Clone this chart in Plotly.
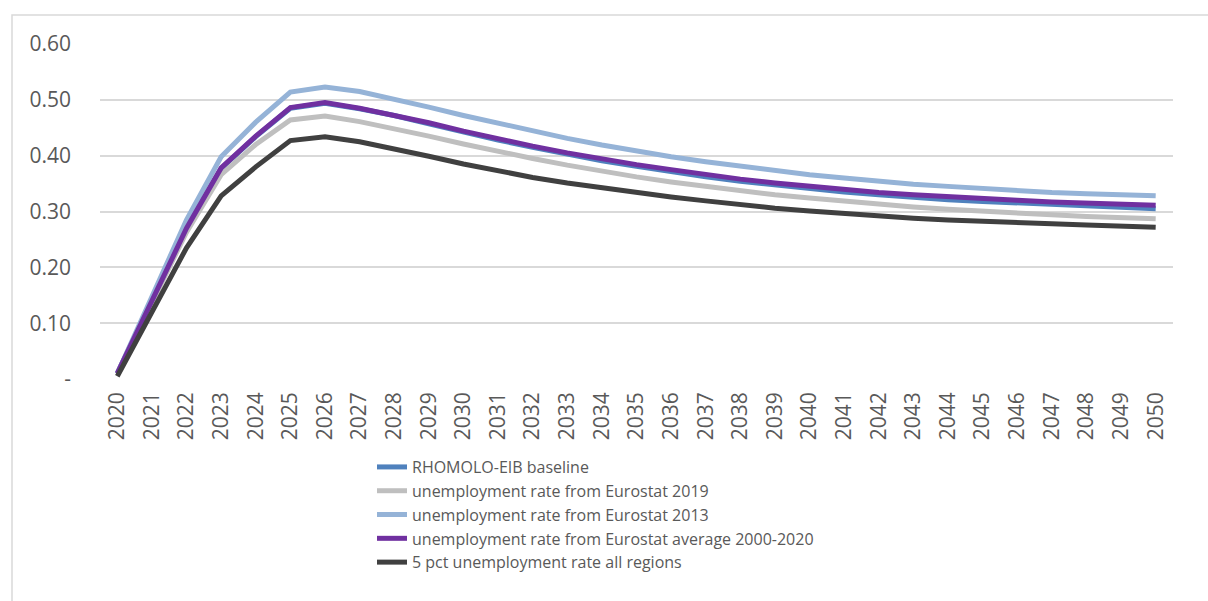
import plotly.graph_objects as go

years = list(range(2020, 2051))

baseline = [0.010, 0.140, 0.270, 0.377, 0.434, 0.485, 0.494, 0.484, 0.472, 0.457,
            0.442, 0.428, 0.415, 0.402, 0.391, 0.381, 0.371, 0.362, 0.354, 0.347,
            0.341, 0.335, 0.330, 0.325, 0.321, 0.318, 0.315, 0.312, 0.310, 0.307, 0.305]
euro_2019 = [0.010, 0.135, 0.263, 0.366, 0.420, 0.464, 0.471, 0.461, 0.449, 0.435,
             0.421, 0.407, 0.395, 0.383, 0.372, 0.362, 0.353, 0.345, 0.337, 0.330,
             0.324, 0.318, 0.313, 0.308, 0.304, 0.300, 0.297, 0.294, 0.291, 0.289, 0.287]
euro_2013 = [0.010, 0.150, 0.285, 0.398, 0.460, 0.514, 0.523, 0.515, 0.502, 0.487,
             0.472, 0.458, 0.444, 0.431, 0.419, 0.408, 0.398, 0.389, 0.381, 0.373,
             0.366, 0.360, 0.354, 0.349, 0.345, 0.341, 0.337, 0.334, 0.332, 0.330, 0.328]
euro_avg = [0.010, 0.140, 0.270, 0.378, 0.435, 0.486, 0.495, 0.485, 0.473, 0.459,
            0.444, 0.430, 0.417, 0.405, 0.394, 0.384, 0.375, 0.366, 0.358, 0.351,
            0.345, 0.339, 0.334, 0.330, 0.326, 0.323, 0.320, 0.317, 0.315, 0.313, 0.311]
five_pct = [0.005, 0.120, 0.235, 0.328, 0.380, 0.427, 0.434, 0.425, 0.413, 0.399,
            0.385, 0.372, 0.361, 0.351, 0.342, 0.333, 0.326, 0.319, 0.312, 0.306,
            0.301, 0.296, 0.292, 0.288, 0.285, 0.282, 0.280, 0.278, 0.276, 0.274, 0.272]

series = [
    ("RHOMOLO-EIB baseline", baseline, "#4F81BD"),
    ("unemployment rate from Eurostat 2019", euro_2019, "#BFBFBF"),
    ("unemployment rate from Eurostat 2013", euro_2013, "#95B3D7"),
    ("unemployment rate from Eurostat average 2000-2020", euro_avg, "#7030A0"),
    ("5 pct unemployment rate all regions", five_pct, "#404040"),
]

y_ticks = [0, 0.1, 0.2, 0.3, 0.4, 0.5, 0.6]
y_ticktext = ["-", "0.10", "0.20", "0.30", "0.40", "0.50", "0.60"]

fig = go.Figure()
for name, vals, color in series:
    fig.add_trace(go.Scatter(x=years, y=vals, name=name, mode="lines",
                             line=dict(color=color, width=5)))

font_family = "'Open Sans', 'Liberation Sans', sans-serif"

fig.update_layout(
    width=1208, height=601,
    margin=dict(l=100, r=35, t=44, b=222),
    plot_bgcolor="white", paper_bgcolor="white",
    font=dict(family=font_family, color="#595959", size=21),
    showlegend=True,
    legend=dict(x=0.2535, xanchor="left", y=-0.212, yanchor="top",
                font=dict(size=16, color="#595959"), tracegroupgap=0,
                bgcolor="rgba(0,0,0,0)"),
    xaxis=dict(range=[2019.5, 2050.5], tickmode="array", tickvals=years,
               ticktext=[str(y) for y in years], tickangle=-90,
               showgrid=False, zeroline=False, showline=False,
               tickfont=dict(size=21), ticks="", ticklabelstandoff=8),
    yaxis=dict(range=[0, 0.6], tickmode="array", tickvals=y_ticks,
               ticktext=y_ticktext, showgrid=True, gridcolor="#D9D9D9",
               gridwidth=1.5, zeroline=False, showline=False,
               tickfont=dict(size=21), ticklabelstandoff=28),
    shapes=[dict(type="rect", xref="paper", yref="paper",
                 x0=-88 / 1073, x1=1.05, y0=-0.8, y1=(379 - 15) / 335,
                 line=dict(color="#D9D9D9", width=1.5), layer="below")],
)

# drop the default body margin so the figure sits at the window origin
fig.write_html("out.html", config={"displayModeBar": False},
               post_script="document.body.style.margin='0';")
